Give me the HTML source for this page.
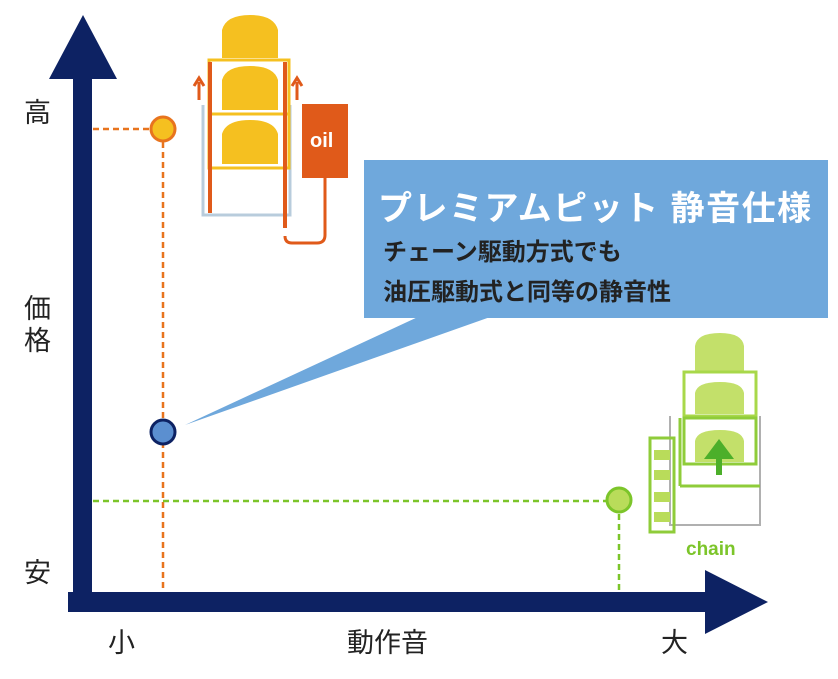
<!DOCTYPE html>
<html><head><meta charset="utf-8"><style>
html,body{margin:0;padding:0;background:#fff}
body{width:838px;height:679px;overflow:hidden;position:relative;font-family:"Liberation Sans","Noto Sans CJK JP",sans-serif}
</style></head><body>
<svg width="838" height="679" viewBox="0 0 838 679" xmlns="http://www.w3.org/2000/svg" style="position:absolute;left:0;top:0">
<line x1="93" y1="129" x2="150" y2="129" stroke="#e8741e" stroke-width="2.5" stroke-dasharray="6,4"/>
<line x1="163" y1="142" x2="163" y2="592" stroke="#e8741e" stroke-width="2.5" stroke-dasharray="6,4"/>
<line x1="93" y1="501" x2="606" y2="501" stroke="#7cc52a" stroke-width="2.5" stroke-dasharray="6,4"/>
<line x1="619" y1="514" x2="619" y2="592" stroke="#7cc52a" stroke-width="2.5" stroke-dasharray="6,4"/>
<rect x="73" y="70" width="19" height="542" fill="#0d2263"/>
<polygon points="83,15 49,79 117,79" fill="#0d2263"/>
<rect x="68" y="592" width="642" height="20" fill="#0d2263"/>
<polygon points="705,570 705,634 768,602" fill="#0d2263"/>
<polygon points="420,316 493,316 185,425" fill="#6fa8dc"/>
<rect x="364" y="160" width="464" height="158" fill="#6fa8dc"/>
<text x="378" y="220" font-size="34" font-weight="bold" fill="#fff" letter-spacing="1.5" font-family="Liberation Sans,Noto Sans CJK JP,sans-serif">プレミアムピット 静音仕様</text>
<text x="383" y="260" font-size="24" font-weight="bold" fill="#222" font-family="Liberation Sans,Noto Sans CJK JP,sans-serif">チェーン駆動方式でも</text>
<text x="383" y="300" font-size="24" font-weight="bold" fill="#222" font-family="Liberation Sans,Noto Sans CJK JP,sans-serif">油圧駆動式と同等の静音性</text>
<circle cx="163" cy="129" r="12" fill="#f5c020" stroke="#e8741e" stroke-width="3"/>
<circle cx="163" cy="432" r="12" fill="#5b8fd0" stroke="#0d2263" stroke-width="3"/>
<circle cx="619" cy="500" r="12" fill="#b9dc5a" stroke="#7cc52a" stroke-width="3"/>
<g font-size="27" fill="#222" font-family="Liberation Sans,Noto Sans CJK JP,sans-serif">
<text x="24" y="122">高</text>
<text x="24" y="318">価</text>
<text x="24" y="350">格</text>
<text x="24" y="582">安</text>
<text x="108" y="652">小</text>
<text x="347" y="652">動作音</text>
<text x="661" y="652">大</text>
</g>
<g>
<path d="M203,105 L203,215 L290,215 L290,105" fill="none" stroke="#b8ccdc" stroke-width="3"/>
<rect x="209" y="60" width="80" height="108" fill="none" stroke="#f5c020" stroke-width="3"/>
<line x1="209" y1="114" x2="289" y2="114" stroke="#f5c020" stroke-width="3"/>
<path d="M222,58 L222,30 Q226,15 250,15 Q274,15 278,30 L278,58 Z" fill="#f5c020"/>
<path d="M222,110 L222,80 Q226,66 250,66 Q274,66 278,80 L278,110 Z" fill="#f5c020"/>
<path d="M222,164 L222,134 Q226,120 250,120 Q274,120 278,134 L278,164 Z" fill="#f5c020"/>
<line x1="210" y1="62" x2="210" y2="213" stroke="#e05a1a" stroke-width="4"/>
<line x1="285" y1="62" x2="285" y2="228" stroke="#e05a1a" stroke-width="4"/>
<path d="M199,100 L199,82 M194,86 L199,78 L204,86" stroke="#e05a1a" stroke-width="3" fill="none"/>
<path d="M297,100 L297,82 M292,86 L297,78 L302,86" stroke="#e05a1a" stroke-width="3" fill="none"/>
<rect x="302" y="104" width="46" height="74" fill="#e05a1a"/>
<text x="310" y="147" font-size="20" font-weight="bold" fill="#fff">oil</text>
<path d="M325,178 L325,235 Q325,243 317,243 L292,243 Q285,243 285,236" fill="none" stroke="#e05a1a" stroke-width="3"/>
</g>
<g>
<path d="M670,416 L670,525 L760,525 L760,416" fill="none" stroke="#b0b0b0" stroke-width="2"/>
<path d="M695,371 L695,346 Q697,333 720,333 Q742,333 744,346 L744,371 Z" fill="#c3e06a"/>
<rect x="684" y="372" width="72" height="44" fill="none" stroke="#a8d84a" stroke-width="3"/>
<path d="M695,414 L695,393 Q697,382 720,382 Q742,382 744,393 L744,414 Z" fill="#c3e06a"/>
<rect x="684" y="418" width="72" height="46" fill="none" stroke="#8fcc3a" stroke-width="3"/>
<path d="M695,462 L695,441 Q697,430 720,430 Q742,430 744,441 L744,462 Z" fill="#c3e06a"/>
<path d="M719,475 L719,452 M710,456 L719,444 L728,456 Z" stroke="#4caf2a" stroke-width="6" fill="#4caf2a"/>
<line x1="680" y1="486" x2="760" y2="486" stroke="#8fcc3a" stroke-width="3"/>
<line x1="680" y1="418" x2="680" y2="486" stroke="#8fcc3a" stroke-width="3"/>
<rect x="650" y="438" width="24" height="94" fill="none" stroke="#8fcc3a" stroke-width="3"/>
<rect x="654" y="450" width="16" height="10" fill="#b9dc5a"/>
<rect x="654" y="470" width="16" height="10" fill="#b9dc5a"/>
<rect x="654" y="492" width="16" height="10" fill="#b9dc5a"/>
<rect x="654" y="512" width="16" height="10" fill="#b9dc5a"/>
<text x="686" y="555" font-size="19" font-weight="bold" fill="#7cc52a">chain</text>
</g>
</svg>
</body></html>
